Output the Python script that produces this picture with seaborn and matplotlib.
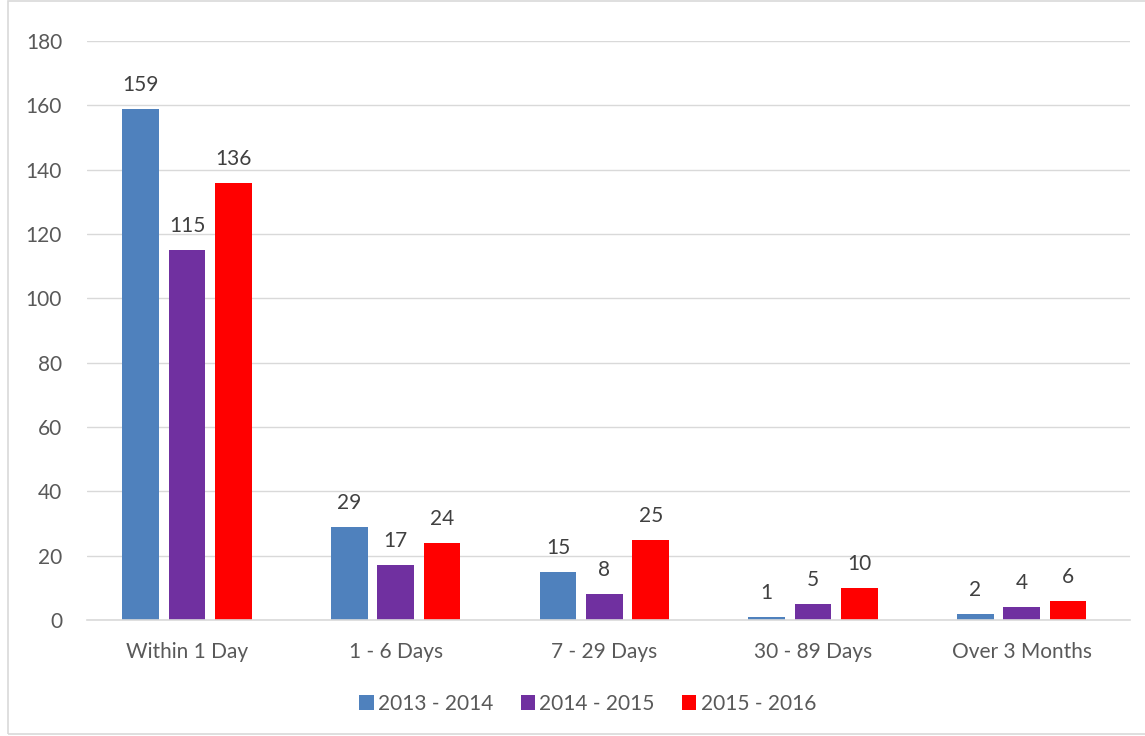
import matplotlib
matplotlib.use('Agg')
import matplotlib.pyplot as plt
import seaborn as sns
import pandas as pd
from matplotlib.patches import Rectangle

categories = ['Within 1 Day', '1 - 6 Days', '7 - 29 Days', '30 - 89 Days', 'Over 3 Months']
years = ['2013 - 2014', '2014 - 2015', '2015 - 2016']
vals_2013 = [159, 29, 15, 1, 2]
vals_2014 = [115, 17, 8, 5, 4]
vals_2015 = [136, 24, 25, 10, 6]
colors = ['#4F81BD', '#7030A0', '#FF0000']

df = pd.DataFrame({
    'category': categories * 3,
    'year': [years[0]] * 5 + [years[1]] * 5 + [years[2]] * 5,
    'count': vals_2013 + vals_2014 + vals_2015,
})

sns.set_style('white')
plt.rcParams['font.family'] = ['Lato', 'DejaVu Sans']
txt = '#595959'
fs = 15

fig = plt.figure(figsize=(11.45, 7.36), dpi=100)
ax = fig.add_axes([0.076, 0.1576, 0.911, 0.7866])

sns.barplot(data=df, x='category', y='count', hue='year', order=categories,
            hue_order=years, palette=colors, width=0.667, gap=0.21,
            saturation=1, linewidth=0, ax=ax, legend=True)

for cont in ax.containers:
    ax.bar_label(cont, padding=10, fontsize=fs, color='#404040')

ax.set_ylim(0, 180)
ax.set_yticks(range(0, 181, 20))
ax.set_xlim(-0.48, 4.52)
ax.yaxis.grid(True, color='#D9D9D9', linewidth=1)
ax.set_axisbelow(True)
ax.set_xlabel('')
ax.set_ylabel('')
ax.tick_params(axis='both', length=0, labelsize=fs, colors=txt)
ax.tick_params(axis='x', pad=16)
ax.tick_params(axis='y', pad=18)
for s in ['left', 'right', 'top']:
    ax.spines[s].set_visible(False)
ax.spines['bottom'].set_color('#D9D9D9')
ax.spines['bottom'].set_linewidth(1.2)

handles, labels = ax.get_legend_handles_labels()
ax.legend(handles, labels, loc='center', bbox_to_anchor=(0.48, -0.145),
          ncol=3, frameon=False, fontsize=fs, labelcolor=txt,
          handlelength=0.7, handleheight=0.7, handletextpad=0.2, columnspacing=1.3)

fig.patches.append(Rectangle((0.007, 0.003), 1.2, 0.995, transform=fig.transFigure,
                             fill=False, edgecolor='#D9D9D9', linewidth=1.2))

fig.savefig('out.png', dpi=100)
